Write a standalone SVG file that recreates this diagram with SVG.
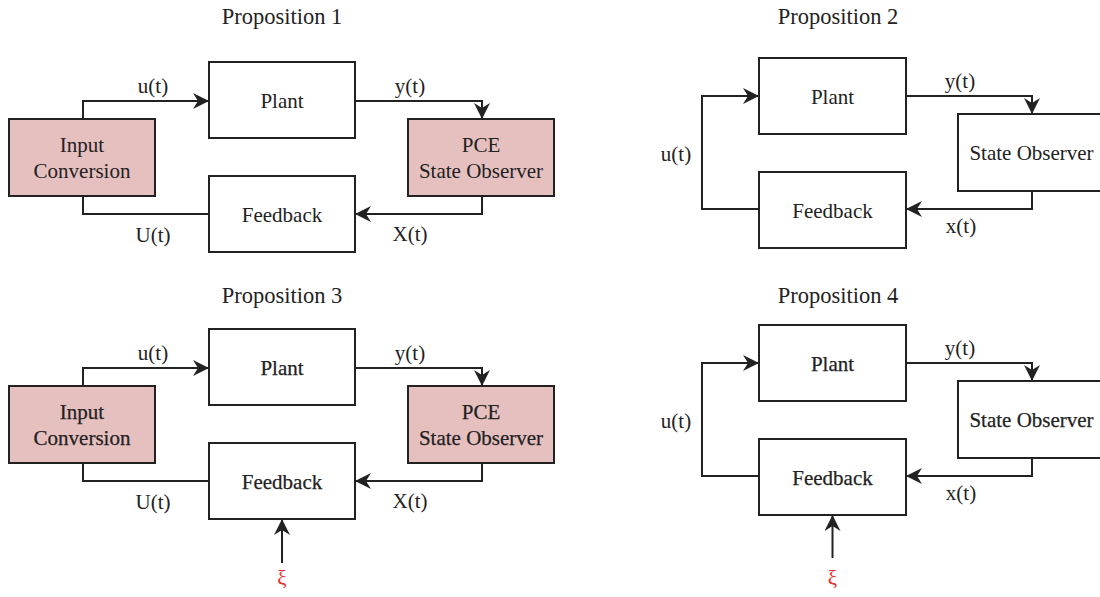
<svg xmlns="http://www.w3.org/2000/svg" width="1100" height="597" viewBox="0 0 1100 597">
<style>
text{font-family:"Liberation Serif","Times New Roman",serif;font-size:21px;fill:#222;text-anchor:middle}
.title{font-size:22.5px}
.box{fill:#fff;stroke:#222;stroke-width:2}
.pce{fill:#e6bfbf;stroke:#222;stroke-width:2}
.wire{fill:none;stroke:#222;stroke-width:2}
.xi{fill:#e8302c}
.b{stroke:#222;stroke-width:0.25}
</style>
<defs>
<marker id="arr" viewBox="-16 -8 16 16" refX="0" refY="0" markerWidth="16" markerHeight="16" markerUnits="userSpaceOnUse" orient="auto">
<path d="M0,0 L-16,-8 L-11,0 L-16,8 Z" fill="#222"/>
</marker>
</defs>

<text class="title" x="282" y="24">Proposition 1</text>
<text class="title" x="838" y="24">Proposition 2</text>
<text class="title" x="282" y="303">Proposition 3</text>
<text class="title" x="838" y="303">Proposition 4</text>

<!-- Panel 1 -->
<g id="p1-input"><rect class="pce" x="9" y="119" width="146" height="77"/><text x="82" y="152">Input</text><text x="82" y="178">Conversion</text></g>
<g id="p1-plant"><rect class="box" x="209" y="62" width="146" height="76"/><text x="282" y="108">Plant</text></g>
<g id="p1-feedback"><rect class="box" x="209" y="176" width="146" height="76"/><text x="282" y="222">Feedback</text></g>
<g id="p1-observer"><rect class="pce" x="408" y="119" width="146" height="77"/><text x="481" y="152">PCE</text><text x="481" y="178">State Observer</text></g>

<!-- Panel 2 -->
<g id="p2-plant"><rect class="box" x="759" y="58" width="147" height="76"/><text x="832.5" y="104">Plant</text></g>
<g id="p2-feedback"><rect class="box" x="759" y="172" width="147" height="76"/><text x="832.5" y="218">Feedback</text></g>
<g id="p2-observer"><rect class="box" x="958" y="114" width="147" height="77"/><text x="1031.5" y="160">State Observer</text></g>

<!-- Panel 3 -->
<g id="p3-input"><rect class="pce" x="9" y="386" width="146" height="77"/><text class="b" x="82" y="419">Input</text><text class="b" x="82" y="445">Conversion</text></g>
<g id="p3-plant"><rect class="box" x="209" y="329" width="146" height="76"/><text class="b" x="282" y="375">Plant</text></g>
<g id="p3-feedback"><rect class="box" x="209" y="443" width="146" height="76"/><text class="b" x="282" y="489">Feedback</text></g>
<g id="p3-observer"><rect class="pce" x="408" y="386" width="146" height="77"/><text class="b" x="481" y="419">PCE</text><text class="b" x="481" y="445">State Observer</text></g>

<!-- Panel 4 -->
<g id="p4-plant"><rect class="box" x="759" y="325" width="147" height="76"/><text class="b" x="832.5" y="371">Plant</text></g>
<g id="p4-feedback"><rect class="box" x="759" y="439" width="147" height="76"/><text class="b" x="832.5" y="485">Feedback</text></g>
<g id="p4-observer"><rect class="box" x="958" y="381" width="147" height="77"/><text class="b" x="1031.5" y="427">State Observer</text></g>

<g id="connectors">
<!-- Panel 1 -->
<path class="wire" d="M83,119 V101 H209" marker-end="url(#arr)"/>
<path class="wire" d="M355,101 H482 V119" marker-end="url(#arr)"/>
<path class="wire" d="M482,196 V214 H355" marker-end="url(#arr)"/>
<path class="wire" d="M83,196 V214 H209"/>
<text x="153" y="93">u(t)</text>
<text x="410" y="93">y(t)</text>
<text x="410" y="241">X(t)</text>
<text x="153" y="242">U(t)</text>
<!-- Panel 2 -->
<path class="wire" d="M759,209 H702 V96 H759" marker-end="url(#arr)"/>
<path class="wire" d="M906,96 H1032 V114" marker-end="url(#arr)"/>
<path class="wire" d="M1032,191 V209 H906" marker-end="url(#arr)"/>
<text x="676" y="161">u(t)</text>
<text x="960" y="88">y(t)</text>
<text x="961" y="233">x(t)</text>
<!-- Panel 3 -->
<path class="wire" d="M83,386 V368 H209" marker-end="url(#arr)"/>
<path class="wire" d="M355,368 H482 V386" marker-end="url(#arr)"/>
<path class="wire" d="M482,463 V481 H355" marker-end="url(#arr)"/>
<path class="wire" d="M83,463 V481 H209"/>
<path class="wire" d="M282,563 V519" marker-end="url(#arr)"/>
<text x="153" y="360">u(t)</text>
<text x="410" y="360">y(t)</text>
<text x="410" y="508">X(t)</text>
<text x="153" y="509">U(t)</text>
<text class="xi" x="282" y="585">ξ</text>
<!-- Panel 4 -->
<path class="wire" d="M759,476 H702 V363 H759" marker-end="url(#arr)"/>
<path class="wire" d="M906,363 H1032 V381" marker-end="url(#arr)"/>
<path class="wire" d="M1032,458 V476 H906" marker-end="url(#arr)"/>
<path class="wire" d="M832.5,558 V515" marker-end="url(#arr)"/>
<text x="676" y="428">u(t)</text>
<text x="960" y="355">y(t)</text>
<text x="961" y="500">x(t)</text>
<text class="xi" x="832.5" y="585">ξ</text>
</g>
</svg>
